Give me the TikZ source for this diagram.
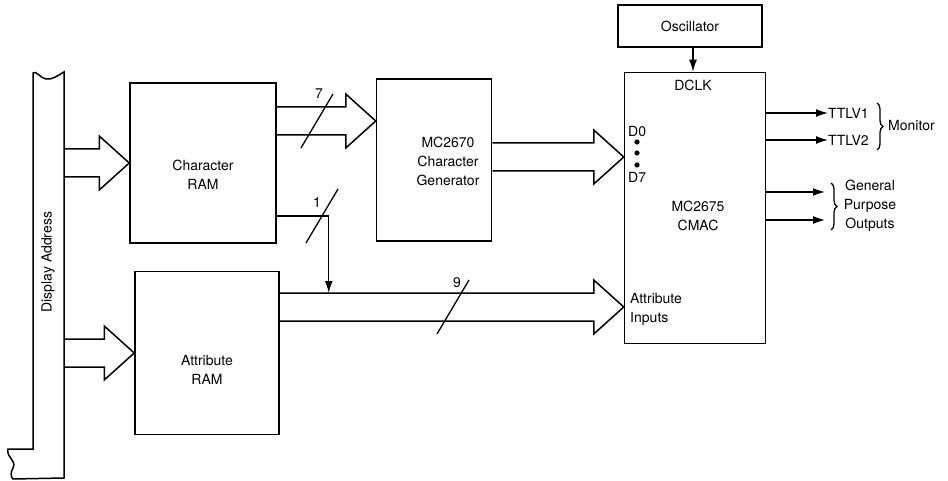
\documentclass[tikz,border=0pt]{standalone}
\usepackage{fontspec}
\setmainfont{TeX Gyre Heros}
\usetikzlibrary{arrows.meta,calc,decorations.pathreplacing,positioning}

\tikzset{
  blk/.style={draw, line width=1.5pt, inner sep=0pt},
  lbl/.style={font=\fontsize{14}{19}\selectfont, align=center, inner sep=0pt},
  sig/.style={line width=1.4pt, -{Latex[length=12pt,width=8pt]}},
  brc/.style={line width=1.3pt, decorate, decoration={brace, amplitude=6pt}},
}
% hollow bus arrow: #1 gives the tail x, #2 is the tip
\newcommand\busarrow[2]{%
  \path (#1 |- #2) coordinate (bt) (#2) coordinate (bh);
  \draw[line width=1.5pt, line join=miter]
    ($(bt)+(0,-14)$) -- ($(bh)+(-30,-14)$) -- ($(bh)+(-30,-27)$) -- (bh)
    -- ($(bh)+(-30,27)$) -- ($(bh)+(-30,14)$) -- ($(bt)+(0,14)$);}
% bus width mark
\newcommand\buswidth[1]{%
  \draw[line width=1.3pt] ($(#1)+(-16,27)$) -- ($(#1)+(16,-27)$);}

\begin{document}
\begin{tikzpicture}[x=1pt,y=-1pt]
  \useasboundingbox (0,0) rectangle (948,481);

  % display address bus
  \draw[line width=1.5pt] (64,478) -- (64,72) .. controls (57,76) and (52,80) .. (46,79)
    .. controls (40,78) and (36,70) .. (33,73) -- (33,449) -- (8,449)
    .. controls (6,458) and (17,460) .. (13,468) .. controls (10,473) and (11,477) .. (13,479) -- cycle;
  \coordinate (dabus) at (64,0);
  \node[lbl, rotate=90] (datxt) at (48,262) {Display Address};

  % blocks
  \node[blk, minimum width=146, minimum height=160] (charram) at (203,163) {};
  \node[blk, minimum width=144, minimum height=163] (attrram) at (207,353) {};
  \node[blk, minimum width=115, minimum height=162] (chargen) at (434,160) {};
  \node[blk, minimum width=141, minimum height=271] (cmac) at (695,208) {};
  \node[blk, minimum width=144, minimum height=42] (osc) at (690,26) {};

  \node[lbl] (charramtxt) at (203,175) {Character\\RAM};
  \node[lbl] (attrramtxt) at (207,370) {Attribute\\RAM};
  \node[lbl] (chargentxt) at (448,161) {MC2670\\Character\\Generator};
  \node[lbl] (cmactxt) at (698,216) {MC2675\\CMAC};
  \node[lbl] (osctxt) at (osc) {Oscillator};
  \node[lbl] (dclk) at (693,85) {DCLK};
  \node[lbl, anchor=west] (d0) at (628,132) {D0};
  \node[lbl, anchor=west] (d7) at (628,177) {D7};
  \foreach \y in {142,153,165}
    \fill (637,\y) circle (2.6);
  \node[lbl, anchor=west, align=left] (attrin) at (630,309) {Attribute\\Inputs};

  % buses
  \coordinate (cgin) at ($(chargen.west)+(0,-39)$);
  \coordinate (cmacd) at ($(cmac.west)+(0,-51)$);
  \coordinate (cmaca) at ($(cmac.west)+(0,99)$);
  \busarrow{dabus}{charram.west}
  \busarrow{dabus}{attrram.west}
  \busarrow{charram.east}{cgin}
  \busarrow{chargen.east}{cmacd}
  \busarrow{attrram.east}{cmaca}

  % single line into the attribute bus
  \coordinate (one) at ($(charram.east)+(0,53)$);
  \coordinate (tap) at ($(attrram.east |- cmaca)+(49,-14)$);
  \draw[sig] (one) -| (tap);

  % bus widths
  \buswidth{317,121}
  \node[lbl] (n7) at (319,94) {7};
  \buswidth{322,216}
  \node[lbl] (n1) at (317,203) {1};
  \buswidth{453,307}
  \node[lbl] (n9) at (457,283) {9};

  % clock
  \draw[sig] (osc.south -| dclk) -- (cmac.north -| dclk);

  % outputs
  \node[lbl, anchor=west] (ttlv1) at (828,113) {TTLV1};
  \node[lbl, anchor=west] (ttlv2) at (828,140) {TTLV2};
  \draw[sig] (cmac.east |- ttlv1.west) -- (ttlv1.west);
  \draw[sig] (cmac.east |- ttlv2.west) -- (ttlv2.west);
  \draw[brc] (877,103) -- (877,150);
  \node[lbl, anchor=west] (mon) at (888,126) {Monitor};

  \coordinate (gp1) at (825,192);
  \coordinate (gp2) at (825,220);
  \draw[sig] (cmac.east |- gp1) -- (gp1);
  \draw[sig] (cmac.east |- gp2) -- (gp2);
  \draw[brc] (831,183) -- (831,230);
  \node[lbl] (gptxt) at (870,206) {General\\Purpose\\Outputs};
\end{tikzpicture}
\end{document}
